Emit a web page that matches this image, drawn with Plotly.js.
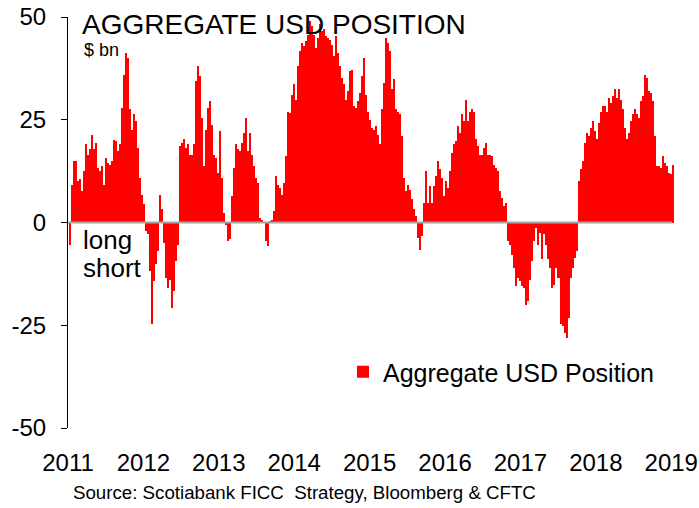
<!DOCTYPE html>
<html>
<head>
<meta charset="utf-8">
<script src="https://cdn.plot.ly/plotly-3.0.1.min.js"></script>
<style>html,body{margin:0;padding:0;background:#fff;}#chart{width:699px;height:508px;}</style>
</head>
<body>
<div id="chart"></div>
<script>
// Aggregate USD position, $ bn (roughly every ~10 days, 2011 to end-2018)
const seg2011 = [-5.4, 9.2, 14.9, 14.9, 10, 10.5, 7.6, 12.5, 19, 16.5, 18, 21.4, 18, 19.4, 13.3, 12.5, 13.7, 9.2, 15.7, 14.5, 14, 15, 20, 19.8, 17.4, 19, 27.9, 36, 41.3, 40, 27.5, 22.6, 26.3, 24.7, 18.2, 10.9, 6.8, 4.4, -2.1, -2.9, -11.8, -24.8];
const seg2012 = [-14.3, -10.2, -7, 6.8, 3.2, -5, -13.5, -15.9, -13.9, -20.8, -16.7, -9.4, -5.4, 18.6, 19.4, 20.2, 18.2, 19, 16.5, 16.5, 19, 34.4, 38, 35.6, 25.5, 13.7, 22.6, 27.9, 29.5, 23.8, 16.5, 15.7, 12.1, 22.2, 10.9, 2.4, -0.5, -4.5, -4.1, 6.4, 13.3, 19];
const seg2013 = [17.8, 17.4, 19.4, 21.8, 25.5, 17.4, 21.8, 16.5, 13.7, 10.9, 9.7, 1.1, 0.5, 0, -4.5, -5.8, 0.3, 0.7, 2.8, 11.3, 9.2, 8.4, 6.8, 9.7, 16.1, 27, 26.7, 31.1, 33.6, 29.9, 38, 41.7, 43.7, 42.9, 44.1, 45.7, 49, 47.8, 45.7, 42.5, 44.9, 48.2, 46.5];
const seg2014 = [47, 45.3, 44.9, 44.5, 43.3, 40.5, 45.3, 41.3, 38, 35.2, 33.6, 29.9, 32, 36.8, 37.2, 28.3, 27.9, 29.5, 31.5, 35.6, 40, 31.1, 27, 25, 23, 22.6, 23.4, 21.4, 19, 27.5, 34, 44.9, 43.7, 41.7, 32.4, 34.8, 27.5, 27, 26.3, 21, 10.9, 7.6, 9.2];
const seg2015 = [8, 5.6, 3.2, 1.5, -3.7, -6.6, -3.3, 4.8, 12.5, 4.8, 8.8, 4.8, 8.8, 11.3, 14.9, 12.9, 10.9, 6.4, 10, 8.4, 12.5, 17, 19, 19.8, 23.4, 21.8, 26.3, 24.7, 29.9, 24.7, 27, 27.5, 27, 20.2, 18.6, 16.5, 16.5, 18.2, 19.4, 16.5, 16.5, 16.1, 14];
const seg2016 = [13.3, 12.5, 7.6, 6, 4, 4.8, -4.5, -5.4, -7.8, -11, -15.5, -13.5, -14.3, -15.5, -15.9, -20, -19.1, -13.9, -9.4, -4.5, -1.3, -5.4, -2.5, -9, -2.9, -5.4, -9, -11, -15.9, -15.1, -11, -13.5, -13.5, -24.8, -25.2, -26.8, -28, -23.3, -13.5, -11, -8.6, -7, 10, 12.9];
const seg2018 = [14.9, 19.4, 21.8, 21, 23, 24.7, 22.2, 20.2, 24.2, 27, 28.3, 28.3, 27, 30.3, 29.1, 30.7, 32.4, 30.3, 32.4, 29.9, 27.5, 23, 20.2, 21.8, 24.7, 26.3, 27.5, 26.3, 25.5, 29.5, 30.7, 36, 35.2, 32, 31.5, 29.5, 21, 13.7, 13.7, 13.3, 16.1, 14.5, 13.7, 12.1, 11.7, 14.1];
const positionValues = [].concat(seg2011, seg2012, seg2013, seg2014, seg2015, seg2016, seg2018);

const firstObs = 2011.02;   // decimal year of first observation
const lastObs = 2019.03;    // decimal year of last observation
const yearTicks = [2011, 2012, 2013, 2014, 2015, 2016, 2017, 2018, 2019];
const yearLabels = yearTicks.map(String);
const yTicks = [-50, -25, 0, 25, 50];

const n = positionValues.length;
const stepYr = (lastObs - firstObs) / (n - 1);
const xDates = positionValues.map((_, i) => firstObs + i * stepYr);

const FONT = 'Liberation Sans, Arial, sans-serif';

const trace = {
  type: 'bar',
  x: xDates,
  y: positionValues,
  name: 'Aggregate USD Position',
  marker: {color: '#ff0000', line: {width: 0}},
  width: stepYr,
  showlegend: true
};

const layout = {
  width: 699, height: 508,
  margin: {l: 68, r: 24, t: 17, b: 80},
  paper_bgcolor: '#ffffff', plot_bgcolor: '#ffffff',
  font: {family: FONT, color: '#000'},
  bargap: 0,
  title: {text: 'AGGREGATE USD POSITION', x: 82/699, xanchor: 'left', xref: 'container',
          y: 1 - 24/508, yanchor: 'middle', yref: 'container',
          font: {family: FONT, size: 28, color: '#000'}},
  xaxis: {range: [2011, 2019.05], tickvals: yearTicks, ticktext: yearLabels,
          showgrid: false, zeroline: false, showline: false, ticks: '',
          ticklabelstandoff: 18,
          tickfont: {family: FONT, size: 24, color: '#000'}},
  yaxis: {range: [-50, 50], tickvals: yTicks, ticktext: yTicks.map(String),
          showgrid: false, zeroline: false, showline: true, linecolor: '#000', linewidth: 1,
          ticks: 'outside', ticklen: 6, tickcolor: '#000', ticklabelstandoff: 10,
          tickfont: {family: FONT, size: 24, color: '#000'}},
  legend: {x: (343-68)/607, xanchor: 'left', y: (428-372)/411, yanchor: 'middle',
           bgcolor: 'rgba(0,0,0,0)', font: {family: FONT, size: 25, color: '#000'}},
  shapes: [{type: 'line', xref: 'paper', x0: 0, x1: 0.995, yref: 'y', y0: 0, y1: 0,
            line: {color: '#a6a6a6', width: 2}, layer: 'above'}],
  annotations: [
    {text: '$ bn', xref: 'paper', yref: 'paper', x: (82-68)/607, y: (428-50)/411,
     xanchor: 'left', yanchor: 'middle', showarrow: false, font: {family: FONT, size: 18, color: '#000'}},
    {text: 'long', xref: 'paper', yref: 'paper', x: (81-68)/607, y: (428-240)/411,
     xanchor: 'left', yanchor: 'middle', showarrow: false, font: {family: FONT, size: 26, color: '#000'}},
    {text: 'short', xref: 'paper', yref: 'paper', x: (81-68)/607, y: (428-268)/411,
     xanchor: 'left', yanchor: 'middle', showarrow: false, font: {family: FONT, size: 26, color: '#000'}},
    {text: 'Source: Scotiabank FICC  Strategy, Bloomberg &amp; CFTC', xref: 'paper', yref: 'paper',
     x: (71-68)/607, y: (428-493)/411, xanchor: 'left', yanchor: 'middle', showarrow: false,
     font: {family: FONT, size: 18.7, color: '#000'}}
  ]
};

Plotly.newPlot('chart', [trace], layout, {staticPlot: true, displayModeBar: false});
</script>
</body>
</html>
